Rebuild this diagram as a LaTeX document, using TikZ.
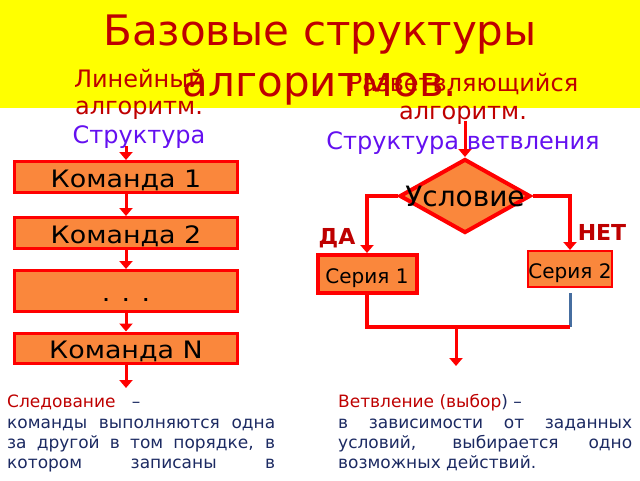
\documentclass[tikz,border=0pt]{standalone}
\usepackage{fontspec}
\setmainfont{DejaVu Sans}
\newfontfamily\widefont[FakeStretch=1.12]{DejaVu Sans}
\usetikzlibrary{arrows.meta,shapes.geometric}
\definecolor{slideyellow}{RGB}{255,255,0}
\definecolor{darkred}{RGB}{190,0,0}
\definecolor{violetblue}{RGB}{100,16,240}
\definecolor{boxorange}{RGB}{250,135,60}
\definecolor{navy}{RGB}{28,42,98}
\definecolor{steel}{RGB}{70,110,160}

\begin{document}
\begin{tikzpicture}[x=1pt,y=-1pt,>={Triangle[width=13pt,length=8pt]},
    cmd/.style={draw=red,line width=3pt,fill=boxorange,minimum width=223pt,
        inner sep=0pt,text height=20pt,text depth=0pt,
        font=\widefont\fontsize{24}{28}\selectfont},
    series/.style={draw=red,fill=boxorange,inner sep=0pt,text height=18pt,
        text depth=0pt,font=\fontsize{20}{24}\selectfont},
    cond/.style={diamond,draw=red,line width=4pt,fill=boxorange,minimum width=131pt,
        minimum height=74pt,inner sep=0pt,font=\fontsize{28}{32}\selectfont},
    flow/.style={red,line width=3pt},
    heading/.style={anchor=base,inner sep=0pt,text=darkred,font=\fontsize{24}{28}\selectfont},
    answer/.style={text=darkred,inner sep=0pt,font=\bfseries\fontsize{22}{26}\selectfont},
    body/.style={anchor=base west,inner sep=0pt,text=navy,font=\fontsize{17}{20}\selectfont}]
    \useasboundingbox (0,0) rectangle (640,480);

    % draw the yellow band
    \fill[slideyellow] (0,0) rectangle (640,108);

    % draw the headings
    \node[heading] (lin1) at (139,87) {Линейный};
    \node[heading] (lin2) at (139,114) {алгоритм.};
    \node[heading,text=violetblue] (linstr) at (139,143) {Структура};
    \node[heading] (br1) at (463,91) {Разветвляющийся};
    \node[heading] (br2) at (463,119) {алгоритм.};
    \node[heading,text=violetblue] (brstr) at (463,149) {Структура ветвления};
    \node[heading,font=\fontsize{42}{50}\selectfont] (title1) at (320,45) {Базовые структуры};
    \node[heading,font=\fontsize{42}{50}\selectfont] (title2) at (320,96) {алгоритмов.};

    % draw the linear algorithm
    \node[cmd,minimum height=31pt] (k1) at (126,177) {Команда 1};
    \node[cmd,minimum height=31pt] (k2) at (126,233) {Команда 2};
    \node[cmd,minimum height=41pt] (k3) at (126,291) {. . .};
    \node[cmd,minimum height=30pt] (k4) at (126,348) {Команда N};
    \coordinate (in1) at (126,146);
    \coordinate (out1) at (126,388);
    \draw[flow,->] (in1) -- (k1);
    \foreach \a/\b in {k1/k2,k2/k3,k3/k4}
        \draw[flow,->] (\a) -- (\b);
    \draw[flow,->] (k4) -- (out1);

    % draw the branching
    \node[cond] (cond) at (465,196) {\makebox[0pt]{Условие}};
    \node[series,line width=4pt,minimum width=99pt,minimum height=38pt] (s1) at (367,274) {Серия 1};
    \node[series,line width=2pt,minimum width=83pt,minimum height=36pt] (s2) at (570,269) {Серия 2};
    \coordinate (in2) at (465,121);
    \draw[flow,->] (in2) -- (cond);
    \draw[flow,line width=3.5pt,->] (cond.west) -| (s1.north);
    \draw[flow,line width=3.5pt,->] (cond.east) -| (s2.north);
    \node[answer] (yes) at (337,238) {ДА};
    \node[answer] (no) at (602,232) {НЕТ};
    \coordinate (b2) at (570,293);
    \coordinate (jr) at (570,327);
    \coordinate (j) at (456,327);
    \coordinate (out2) at (456,366);
    \draw[steel,line width=3pt] (b2) -- (jr);
    \draw[flow,line width=3.5pt] (s1.south) |- (jr);
    \draw[flow,->] (j) -- (out2);

    % draw the explanations
    \node[body] (seq0) at (7,407) {\textcolor{darkred}{Следование}\ \ \ –};
    \node[body] (seq1) at (7,428) {\makebox[268pt][s]{команды выполняются одна}};
    \node[body] (seq2) at (7,448) {\makebox[268pt][s]{за другой в том порядке, в}};
    \node[body] (seq3) at (7,468) {\makebox[268pt][s]{котором записаны в}};
    \node[body] (brn0) at (338,407) {\textcolor{darkred}{Ветвление (выбор}) –};
    \node[body] (brn1) at (338,428) {\makebox[294pt][s]{в зависимости от заданных}};
    \node[body] (brn2) at (338,448) {\makebox[294pt][s]{условий, выбирается одно}};
    \node[body] (brn3) at (338,468) {возможных действий.};
\end{tikzpicture}
\end{document}
